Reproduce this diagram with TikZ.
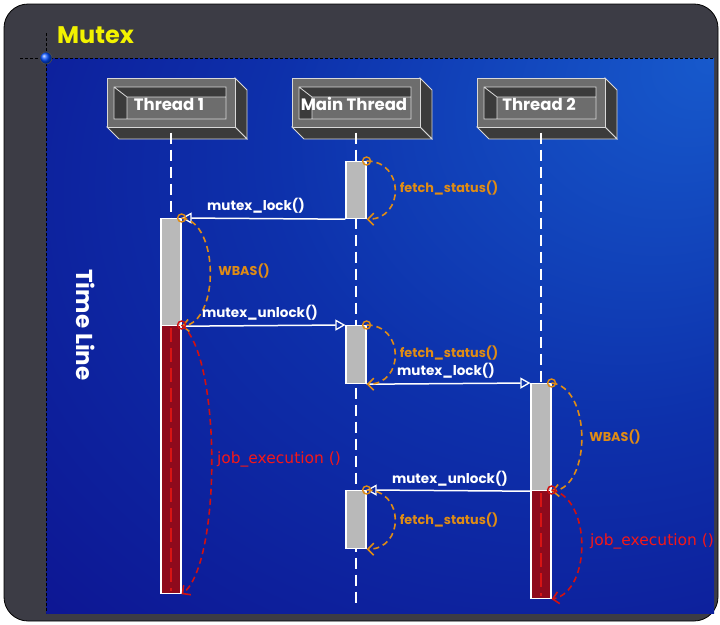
\documentclass[tikz,border=0pt]{standalone}
\usepackage{fontspec}
\setmainfont{Poppins}
\newfontfamily\handfont{DejaVu Sans}
\usetikzlibrary{arrows.meta}

\definecolor{framegrey}{HTML}{3C3C45}
\definecolor{boxface}{HTML}{6D6D6D}
\definecolor{boxdark}{HTML}{3B3B3B}
\definecolor{boxline}{HTML}{D8D8D8}
\definecolor{bargrey}{HTML}{B9B9B9}
\definecolor{redbar}{HTML}{8E0A1C}
\definecolor{reddash}{HTML}{D81414}
\definecolor{orangec}{HTML}{E08C14}
\definecolor{redarc}{HTML}{D01111}
\definecolor{redtext}{HTML}{F41818}
\definecolor{titleyellow}{HTML}{F2F200}

% blue backdrop, brightest in the upper right corner
\pgfdeclareradialshading{bluebg}{\pgfpoint{25bp}{25bp}}{%
  rgb(0bp)=(0.09,0.35,0.80);
  rgb(25bp)=(0.05,0.19,0.67);
  rgb(50bp)=(0.05,0.08,0.57);
  rgb(75bp)=(0.03,0.03,0.57)}

\tikzset{
  lifeline/.style={white, line width=2, dash pattern=on 11pt off 6pt},
  gbar/.style={draw=white, line width=1.2, fill=bargrey, minimum width=20,
    inner sep=0, anchor=north},
  rbar/.style={draw=white, line width=1.2, fill=redbar, minimum width=20,
    inner sep=0, anchor=north},
  barline/.style={reddash, line width=2.5, dash pattern=on 14pt off 6pt},
  msg/.style={white, line width=1.5, -{Triangle[open, length=10pt, width=11pt, line width=1.3pt]}},
  selfcall/.style={orangec, line width=1.6, dash pattern=on 6pt off 4pt,
    -{Straight Barb[length=6pt, width=12pt, line width=1.6pt]}},
  jobcall/.style={redarc, line width=1.6, dash pattern=on 6pt off 4pt,
    -{Straight Barb[length=6pt, width=12pt, line width=1.6pt]}},
  ocirc/.style={circle, draw=orangec, line width=1.4, minimum size=8, inner sep=0},
  rcirc/.style={circle, draw=redarc, line width=1.4, minimum size=8, inner sep=0},
  msglabel/.style={text=white, font=\bfseries\fontsize{13.5}{16}\selectfont, inner sep=0},
  calllabel/.style={text=orangec, font=\bfseries\fontsize{12.8}{16}\selectfont, inner sep=0},
  joblabel/.style={text=redtext, font=\handfont\fontsize{15.5}{17}\selectfont, inner sep=0},
  headtext/.style={text=white, font=\bfseries\fontsize{16.5}{19}\selectfont, inner sep=0},
  pics/threadbox/.style={code={
    % right and bottom faces of the block
    \filldraw[fill=boxdark, draw=boxline, line width=0.8]
      (64,-24.5) -- (76,-12.5) -- (76,36.5) -- (64,24.5) -- cycle;
    \filldraw[fill=boxdark, draw=boxline, line width=0.8]
      (-64,24.5) -- (64,24.5) -- (76,36.5) -- (-52,36.5) -- cycle;
    % front face with its sunken panel
    \filldraw[fill=boxface, draw=boxline, line width=0.8] (-64,-24.5) rectangle (64,24.5);
    \fill[boxdark] (-57,-15.5) rectangle (55,16.5);
    \fill[boxface] (-44,-5.5) rectangle (55,16.5);
    \draw[boxline, line width=0.8] (-57,-15.5) rectangle (55,16.5)
      (-57,-15.5) -- (-44,-5.5)
      (-44,16.5) -- (-44,-5.5) -- (55,-5.5);
    \node[headtext] (-label) at (-2,1.5) {#1};
    \coordinate (-bot) at (0,30);
  }}
}

\begin{document}
\begin{tikzpicture}[x=1pt, y=-1pt]
\useasboundingbox (0,0) rectangle (720,624);
\fill[white] (0,0) rectangle (720,624);

% outer panel and blue canvas
\filldraw[fill=framegrey, draw=black, line width=0.8, rounded corners=24] (4,4) rectangle (718,621);
\shade[shading=bluebg] (46,58) rectangle (714,613);
\draw[black, line width=0.8, dash pattern=on 3pt off 2pt] (20,58) -- (714,58);
\draw[black, line width=0.8, dash pattern=on 3pt off 2pt] (46,33) -- (46,613);
\node[circle, draw=black!70, line width=0.6, minimum size=12, inner sep=0,
  shading=ball, ball color=blue!70!cyan] (origin) at (46,58) {};
\node[anchor=west, text=titleyellow, inner sep=0,
  font=\bfseries\fontsize{24}{26}\selectfont] (title) at (57,35) {Mutex};

% side caption
\node[rotate=-90, text=white, inner sep=0, font=\bfseries\fontsize{23}{25}\selectfont]
  (timeline) at (86,325) {Time Line};

% thread heads
\pic (t1) at (171,102.5) {threadbox={Thread 1}};
\pic (mt) at (356,102.5) {threadbox={Main Thread}};
\pic (t2) at (541,102.5) {threadbox={Thread 2}};

% lifelines
\coordinate (t1end) at (171,593);
\coordinate (mtend) at (356,604);
\coordinate (t2end) at (541,598);
\draw[lifeline] (t1-bot) -- (t1end);
\draw[lifeline] (mt-bot) -- (mtend);
\draw[lifeline] (t2-bot) -- (t2end);

% activation bars
\node[gbar, minimum height=57] (m1) at (356,161) {};
\node[gbar, minimum height=58] (m2) at (356,325) {};
\node[gbar, minimum height=58] (m3) at (356,490) {};
\node[gbar, minimum height=107] (t1g) at (171,218) {};
\node[rbar, minimum height=268] (t1r) at (171,325) {};
\node[gbar, minimum height=107] (t2g) at (541,383) {};
\node[rbar, minimum height=108] (t2r) at (541,490) {};
\draw[barline] ([yshift=-3]t1r.north) -- ([yshift=3]t1r.south);
\draw[barline] ([yshift=-3]t2r.north) -- ([yshift=3]t2r.south);

% messages between threads
\draw[msg] (m1.south west) -- (t1g.north east);
\draw[msg] (t1g.south east) -- (m2.north west);
\draw[msg] (m2.south east) -- (t2g.north west);
\draw[msg] (t2g.south west) -- (m3.north east);

% calls within a thread
\draw[selfcall] (m1.north east) .. controls +(38,0) and +(38,0) .. (m1.south east);
\draw[selfcall] (t1g.north east) .. controls +(38,4) and +(38,-4) .. (t1g.south east);
\draw[selfcall] (m2.north east) .. controls +(38,0) and +(38,0) .. (m2.south east);
\draw[selfcall] (t2g.north east) .. controls +(40,4) and +(40,-4) .. (t2g.south east);
\draw[selfcall] (m3.north east) .. controls +(38,0) and +(38,0) .. (m3.south east);
\draw[jobcall] (t1r.north east) .. controls +(40,30) and +(40,-30) .. (t1r.south east);
\draw[jobcall] (t2r.north east) .. controls +(40,8) and +(40,-8) .. (t2r.south east);

% call markers
\node[ocirc] (c1) at (m1.north east) {};
\node[ocirc] (c2) at (t1g.north east) {};
\node[rcirc] (c3) at (t1r.north east) {};
\node[ocirc] (c4) at (m2.north east) {};
\node[ocirc] (c5) at (t2g.north east) {};
\node[rcirc] (c6) at (t2r.north east) {};
\node[ocirc] (c7) at (m3.north east) {};

% labels
\node[msglabel] (l1) at (256,206) {mutex\_lock()};
\node[msglabel] (l2) at (260,313) {mutex\_unlock()};
\node[msglabel] (l3) at (446,371) {mutex\_lock()};
\node[msglabel] (l4) at (450,479) {mutex\_unlock()};
\node[calllabel] (f1) at (449,188) {fetch\_status()};
\node[calllabel] (f2) at (449,353) {fetch\_status()};
\node[calllabel] (f3) at (449,520) {fetch\_status()};
\node[calllabel] (w1) at (244,271) {WBAS()};
\node[calllabel] (w2) at (615,437) {WBAS()};
\node[joblabel] (j1) at (279,459) {job\_execution ()};
\node[joblabel] (j2) at (652,541) {job\_execution ()};
\end{tikzpicture}
\end{document}
